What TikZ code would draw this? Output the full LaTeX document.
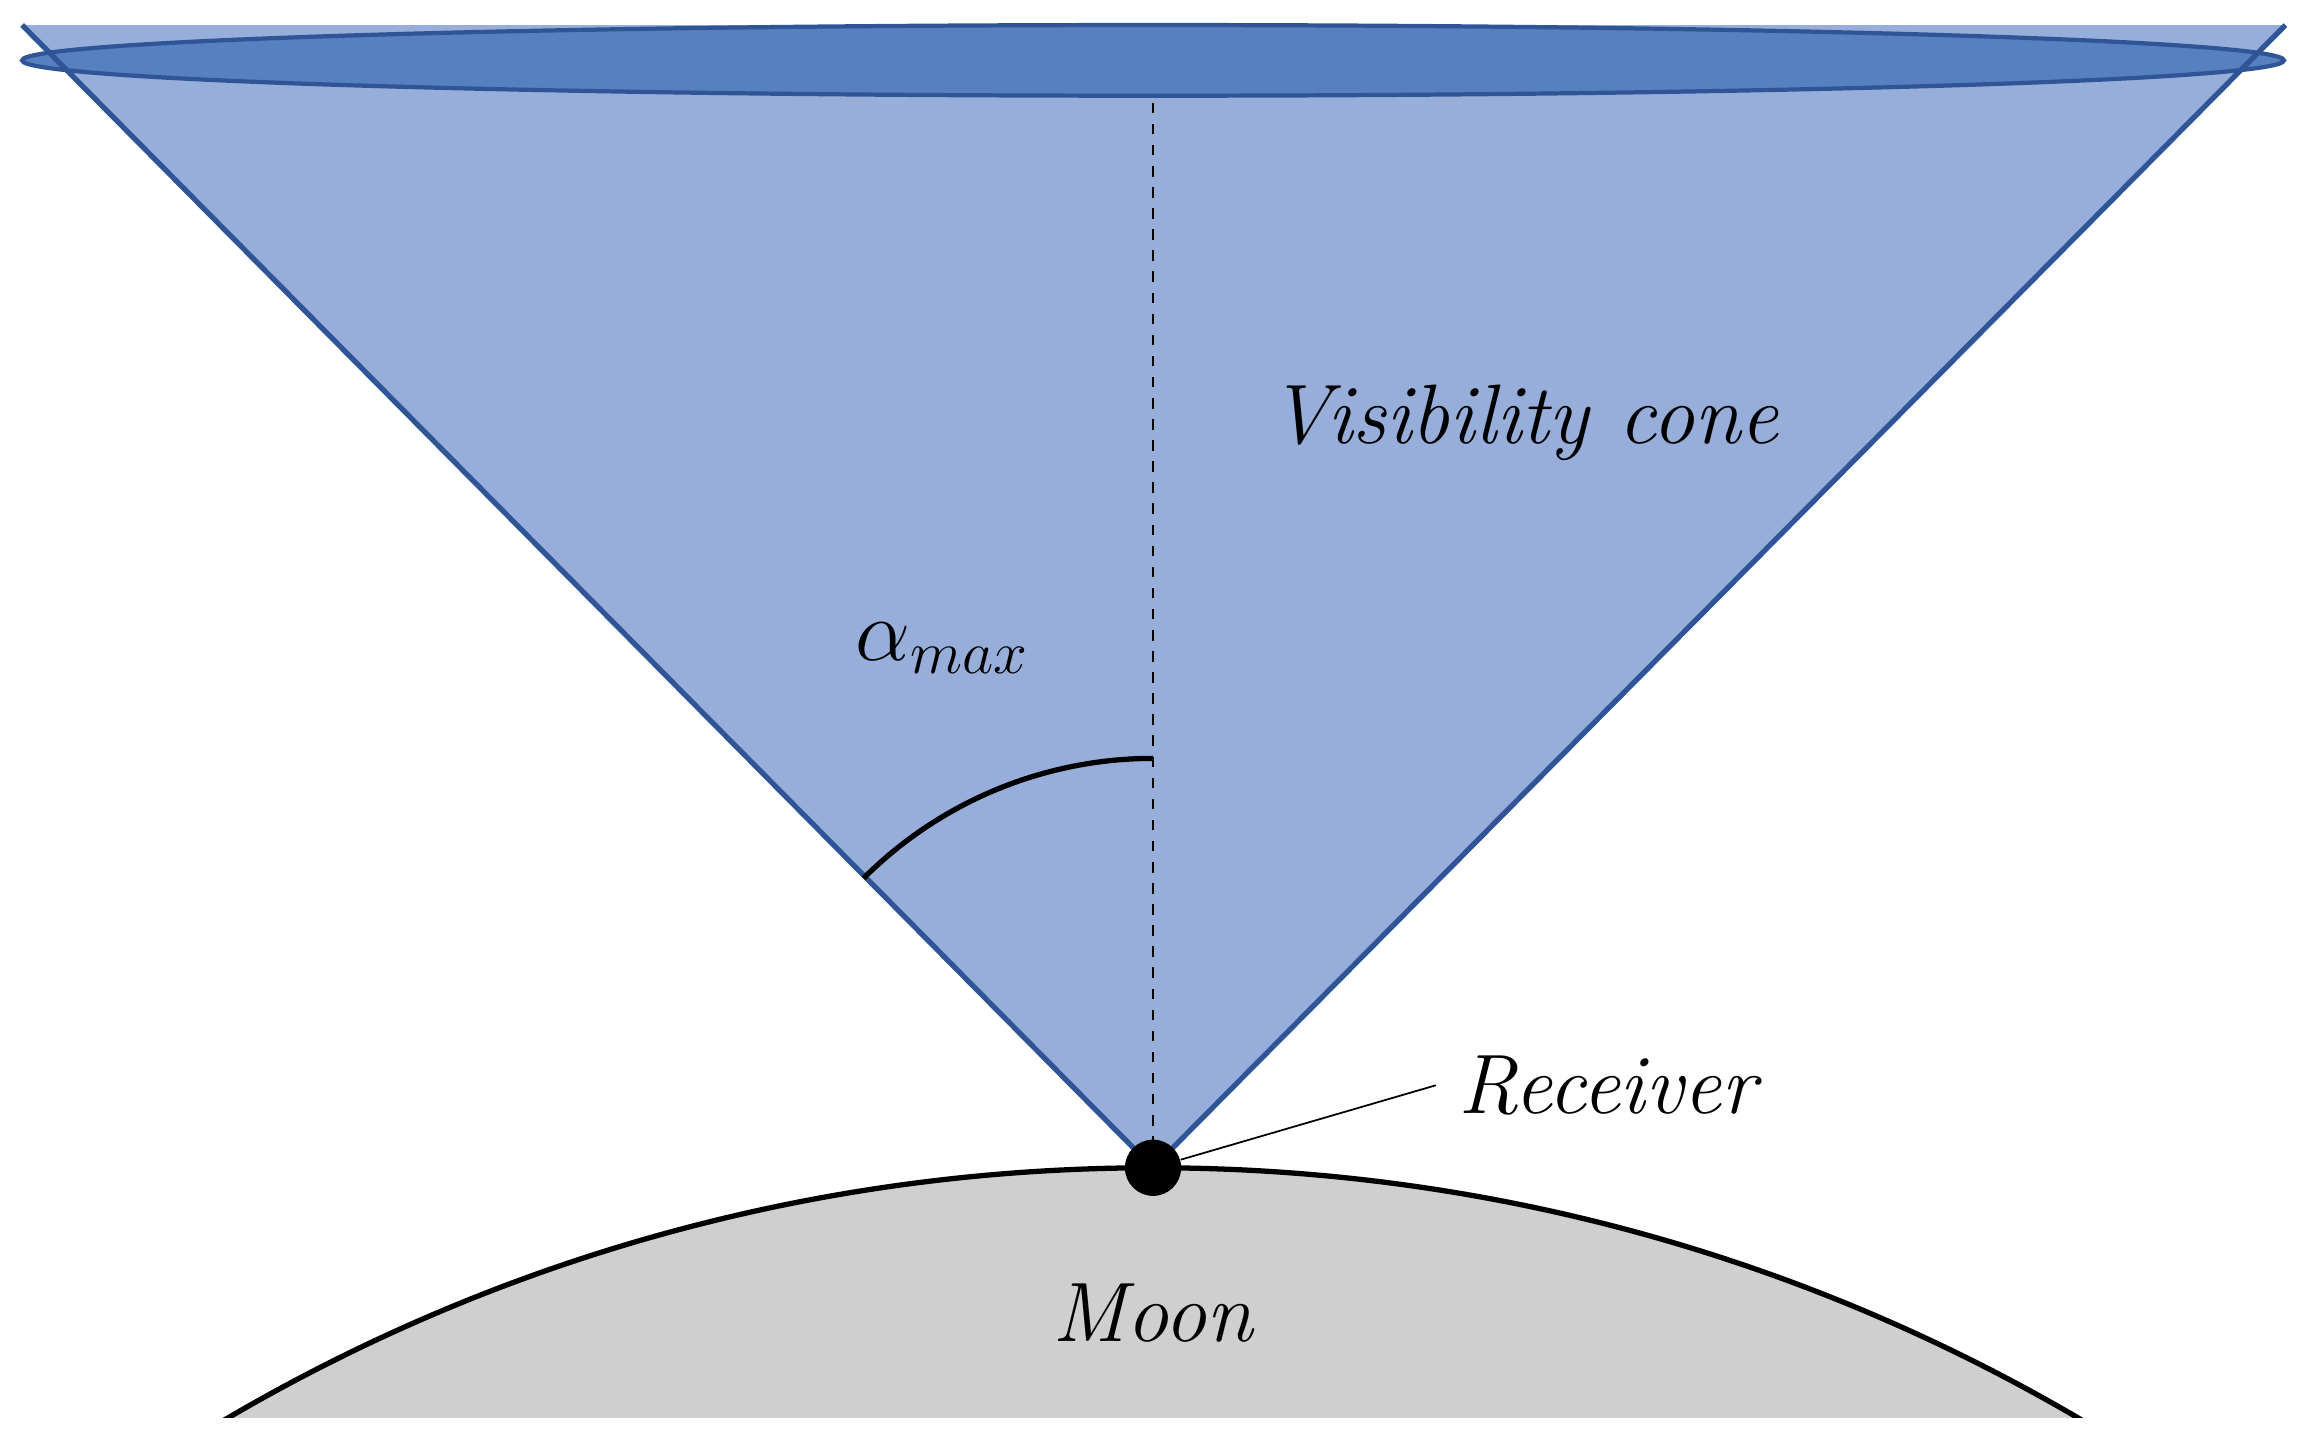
\documentclass[tikz,border=0pt]{standalone}
\usetikzlibrary{positioning}
\definecolor{conefill}{HTML}{97AEDA}
\definecolor{coneedge}{HTML}{2F5597}
\definecolor{capfill}{HTML}{5680C0}
\definecolor{moonfill}{HTML}{D0CFD0}
\tikzset{
  lbl/.style={font=\fontsize{24}{28}\selectfont\itshape},
}
\begin{document}
\begin{tikzpicture}[x=0.014726cm,y=-0.014726cm]
		\useasboundingbox (0,0) rectangle (1568,973);
		% Luna
		\begin{scope}
			\clip (0,0) rectangle (1568,963);
			\draw [fill=moonfill, line width=1.5pt] (783,2038) circle (1245);
		\end{scope}
		\fill [white] (0,963) rectangle (1568,973);
		% Cono di visibilita'
		\coordinate (apex) at (783,793);
		\coordinate (tl) at (15,17);
		\coordinate (tr) at (1552,17);
		\fill [conefill] (apex) -- (tl) -- (tr) -- cycle;
		\draw [coneedge, fill=capfill, line width=1.2pt] (783,41) ellipse (768 and 24);
		\draw [coneedge, line width=1.5pt] (tl) -- (apex) -- (tr);
		\coordinate (axis) at (783,65);
		\draw [dashed, line width=0.8pt] (apex) -- (axis);
		% Angolo
		\draw [line width=1.5pt] (783,515) arc[start angle=-90, end angle=-135, radius=278];
		% Ricevitore
		\node [circle, fill=black, inner sep=0pt, minimum size=16pt] (rx) at (783,793) {};
		\coordinate (rxend) at (975,737);
		\draw [line width=0.5pt] (rx) -- (rxend);
		% NOMI
		\node [lbl, anchor=west] (rxlab) at (982,737) {Receiver};
		\node [lbl] (cone) at (1035,287) {Visibility cone};
		\node [font=\fontsize{24}{28}\selectfont] (alpha) at (640,440) {$\alpha_{max}$};
		\node [lbl] (moon) at (783,892) {Moon};
	\end{tikzpicture}
\end{document}
